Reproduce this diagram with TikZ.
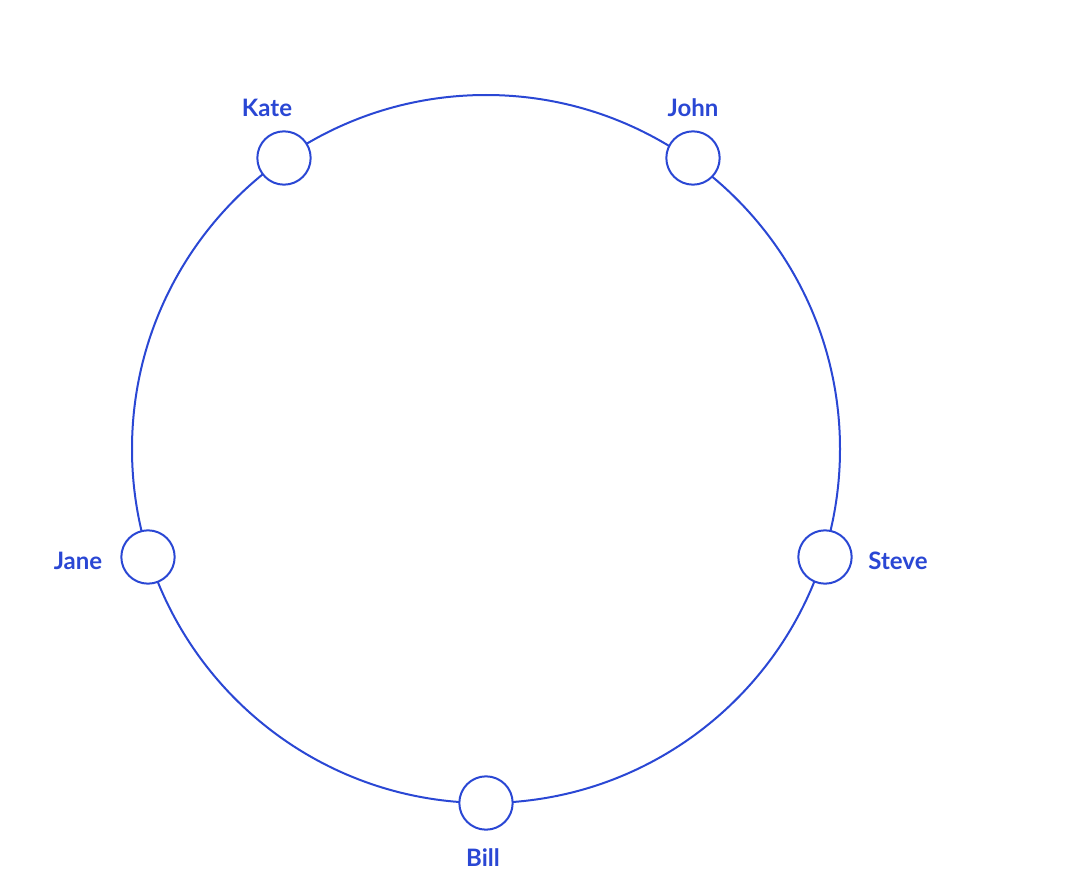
\documentclass[tikz,border=0pt]{standalone}
\usepackage{fontspec}
\setmainfont{Lato}
\definecolor{ringblue}{HTML}{2A47D4}
\begin{document}
\begin{tikzpicture}[x=0.75pt,y=-0.75pt,
  member/.style={circle,draw=ringblue,line width=1.5pt,fill=white,minimum size=40pt,inner sep=0pt},
  lbl/.style={text=ringblue,font=\bfseries\fontsize{18}{20}\selectfont,inner sep=0pt}]
\useasboundingbox (0,0) rectangle (1068,892);
\node[circle,draw=ringblue,line width=1.5pt,minimum size=531pt,inner sep=0pt] (ring) at (486,449) {};
\node[member] (kate) at (284,158) {};
\node[member] (john) at (693,158) {};
\node[member] (jane) at (148,557) {};
\node[member] (steve) at (825,557) {};
\node[member] (bill) at (486,803) {};
\node[lbl] (lkate) at (267,108) {Kate};
\node[lbl] (ljohn) at (693,108) {John};
\node[lbl] (ljane) at (78,561) {Jane};
\node[lbl] (lsteve) at (898,561) {Steve};
\node[lbl] (lbill) at (483,858) {Bill};
\end{tikzpicture}
\end{document}
